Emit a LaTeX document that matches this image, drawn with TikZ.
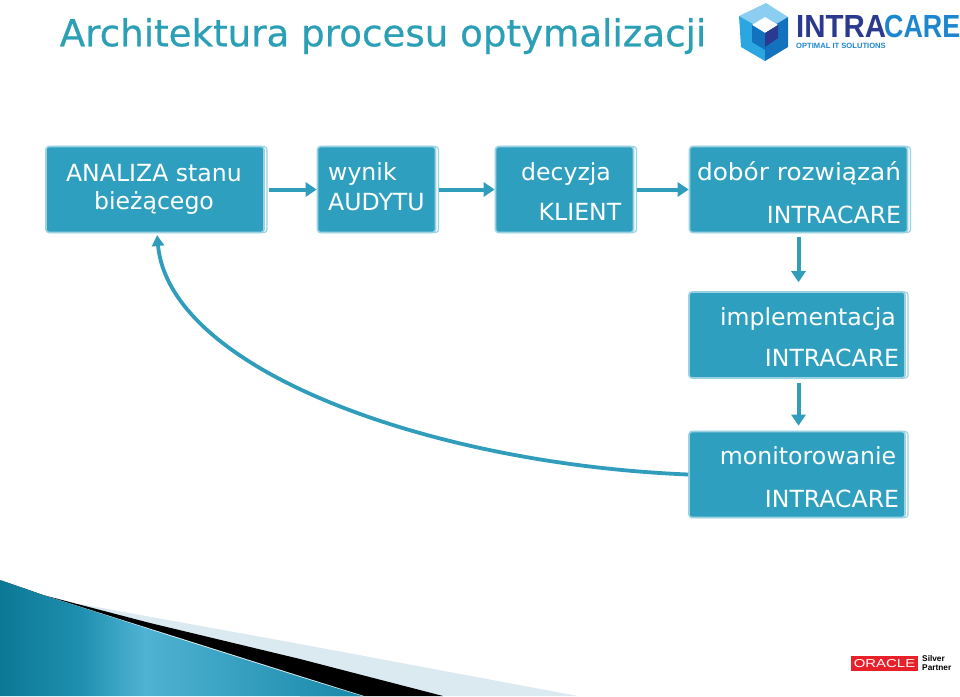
\documentclass[tikz,border=0pt]{standalone}
\usepackage{fontspec}
\setmainfont{DejaVu Sans}
\newfontfamily\logofont{Liberation Sans}
\newfontfamily\titlefont[FakeBold=0.6]{DejaVu Sans}
\usetikzlibrary{arrows.meta}
\definecolor{boxteal}{HTML}{2E9FBF}
\definecolor{boxedge}{HTML}{9AD2E2}
\definecolor{arrowteal}{HTML}{2F9DBB}
\definecolor{titleteal}{HTML}{2B9FB6}
\definecolor{navy}{HTML}{2B3990}
\definecolor{skyb}{HTML}{1C86CE}
\definecolor{cubetop}{HTML}{8CCEF2}
\definecolor{cubeleft}{HTML}{2AA7E0}
\definecolor{cuberight}{HTML}{1272BE}
\definecolor{pale}{HTML}{DBE9F0}
\definecolor{swd}{HTML}{0B7895}
\definecolor{swm}{HTML}{1F8FAF}
\definecolor{swl}{HTML}{4FB3D3}
\definecolor{swr}{HTML}{1887A8}
\definecolor{oraclered}{HTML}{E8202A}
\pgfdeclarehorizontalshading{swooshshade}{100bp}{color(0bp)=(swd);color(25bp)=(swd);color(36bp)=(swm);color(45bp)=(swl);color(75bp)=(swr);color(100bp)=(swr)}
\tikzset{
  x=1pt,y=-1pt,
  flowbox/.style={rectangle,rounded corners=3pt,fill=boxteal,draw=boxedge,line width=1.6pt,inner sep=0pt,
    preaction={draw=boxedge,fill=white,line width=1.2pt,transform canvas={xshift=3pt}}},
  boxtext/.style={text=white,font=\fontsize{23.6}{27}\selectfont,inner sep=0pt,anchor=center},
  flowarrow/.style={draw=arrowteal,line width=4pt,-{Triangle[length=11pt,width=14pt]}},
  looparrow/.style={draw=arrowteal,line width=3.8pt,-{Triangle[length=11pt,width=12pt]}},
  txt/.style={inner sep=0pt,anchor=center}
}
\begin{document}
\begin{tikzpicture}
\useasboundingbox (0,0) rectangle (960,696);
% title
\node[txt,text=titleteal,font=\titlefont\fontsize{37.2}{40}\selectfont] (title) at (383,36) {Architektura procesu optymalizacji};
% logo cube
\fill[cubetop] (766,3)--(788,17)--(765,31)--(739,16)--cycle;
\fill[cubeleft] (739,16)--(765,31)--(765,61)--(741,47)--cycle;
\fill[cuberight] (788,17)--(788,47)--(765,61)--(765,31)--cycle;
\fill[white] (765,17)--(778,25)--(765,33)--(752,25)--cycle;
\fill[cuberight] (752,25)--(765,33)--(765,50)--(752,42)--cycle;
\fill[navy] (778,25)--(778,38)--(765,47)--(765,33)--cycle;
\node[txt,anchor=west,text=navy,font=\logofont\bfseries\fontsize{32}{32}\selectfont,xscale=.92] (logoa) at (796,26.5) {INTRA};
\node[txt,anchor=west,text=skyb,font=\logofont\bfseries\fontsize{32}{32}\selectfont,xscale=.84] (logob) at (884,26.5) {CARE};
\node[txt,anchor=west,text=skyb,font=\logofont\bfseries\fontsize{7.6}{8}\selectfont] (logoc) at (796,46) {OPTIMAL IT SOLUTIONS};
% boxes
\node[flowbox,minimum width=218pt,minimum height=86pt] (b1) at (155,189.5) {};
\node[flowbox,minimum width=118pt,minimum height=86pt] (b2) at (376.5,189.5) {};
\node[flowbox,minimum width=138pt,minimum height=86pt] (b3) at (564.5,189.5) {};
\node[flowbox,minimum width=218pt,minimum height=86pt] (b4) at (798.5,189.5) {};
\node[flowbox,minimum width=216pt,minimum height=86pt] (b5) at (797,335) {};
\node[flowbox,minimum width=216pt,minimum height=86pt] (b6) at (797,474.5) {};
% texts
\node[boxtext] (t1a) at (154,173) {ANALIZA stanu};
\node[boxtext] (t1b) at (154,203) {bieżącego};
\node[boxtext,anchor=west] (t2a) at (328,174) {wynik};
\node[boxtext,anchor=west] (t2b) at (328,202) {AUDYTU};
\node[boxtext] (t3a) at (566,174) {decyzja};
\node[boxtext] (t3b) at (580,212) {KLIENT};
\node[boxtext,xscale=1.05] (t4a) at (799,173) {dobór rozwiązań};
\node[boxtext] (t4b) at (834,215) {INTRACARE};
\node[boxtext] (t5a) at (808,319) {implementacja};
\node[boxtext] (t5b) at (832,358) {INTRACARE};
\node[boxtext] (t6a) at (808,456) {monitorowanie};
\node[boxtext] (t6b) at (832,499) {INTRACARE};
% connectors
\draw[flowarrow,shorten <=4pt,shorten >=0pt] (b1) -- (b2);
\draw[flowarrow,shorten <=3pt,shorten >=0pt] (b2) -- (b3);
\draw[flowarrow,shorten <=3pt,shorten >=0pt] (b3) -- (b4);
\draw[flowarrow,shorten <=4pt,shorten >=9pt] (b4.south) -- (b4.south |- b5.north);
\draw[flowarrow,shorten <=4pt,shorten >=5pt] (b4.south |- b5.south) -- (b4.south |- b6.north);
\coordinate (loopend) at (157,235);
\draw[looparrow] (b6.west) .. controls (430,464) and (170,370) .. (loopend);
% swoosh
\fill[pale] (80,604) -- (300,644) -- (578,696) -- (300,696) -- cycle;
\fill[black] (0,580) -- (43,595) -- (150,623) -- (300,659) -- (443,696) -- (300,696) -- cycle;
\fill[pale] (43,595) -- (167,634) -- (300,676) -- (364,696) -- (300,696) -- cycle;
\path[shade,shading=swooshshade] (0,580) -- (43,595) -- (90,610) -- (167,635) -- (300,677) -- (362,696) -- (0,696) -- cycle;
% partner
\fill[oraclered] (851,656) rectangle (918,671);
\node[txt,text=white,font=\logofont\fontsize{11.5}{12}\selectfont,xscale=1.3] (orc) at (884.5,663.5) {ORACLE};
\node[txt,anchor=west,font=\logofont\bfseries\fontsize{8.3}{8}\selectfont] (s1) at (922,659) {Silver};
\node[txt,anchor=west,font=\logofont\bfseries\fontsize{8.3}{8}\selectfont] (s2) at (922,668) {Partner};
\end{tikzpicture}
\end{document}
